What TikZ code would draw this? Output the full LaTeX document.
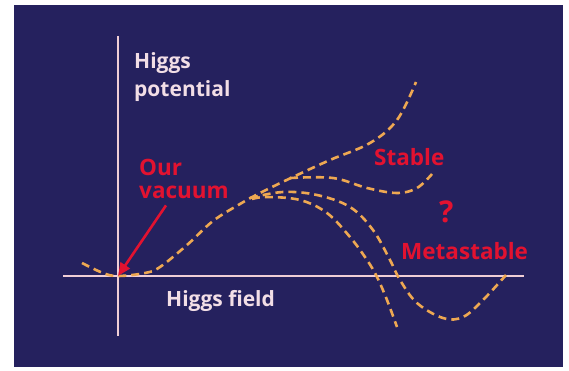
\documentclass[tikz,border=0pt]{standalone}
\usepackage{fontspec}
\setmainfont{Open Sans}
\definecolor{hgbg}{RGB}{37,33,94}
\definecolor{hgaxis}{RGB}{240,206,214}
\definecolor{hgtext}{RGB}{242,222,230}
\definecolor{hgred}{RGB}{226,18,48}
\definecolor{hgorange}{RGB}{238,168,82}
\usetikzlibrary{arrows.meta}

\begin{document}
\begin{tikzpicture}[x=1pt,y=-1pt,
  axisline/.style={draw=hgaxis, line width=2pt},
  potcurve/.style={draw=hgorange, line width=2.6pt, dash pattern=on 8pt off 5pt, smooth, tension=0.6},
  whitelabel/.style={anchor=base west, inner sep=0pt, text=hgtext, font=\fontsize{21}{28}\selectfont\bfseries, align=left},
  redlabel/.style={anchor=base west, inner sep=0pt, text=hgred, font=\fontsize{22.5}{23}\selectfont\bfseries, align=left}]
  % Background
  \useasboundingbox (0,0) rectangle (569,371);
  \fill[white] (0,0) rectangle (569,371);
  \fill[hgbg] (14,5) rectangle (563,367);
  % Axes
  \coordinate (origin) at (118,276);
  \draw[axisline] (118,36) -- (118,336);
  \draw[axisline] (63,276) -- (524,276);
  \node[whitelabel] (potential) at (134,97) {Higgs\\potential};
  \node[whitelabel] (field) at (166,306) {Higgs field};
  % Potential curves
  \draw[potcurve] plot coordinates {(82,263) (103,273) (118,276) (145,273) (160,267) (187,245) (213,221) (240,204) (260,193) (293,177) (330,160) (370,143) (397,120) (416,82)};
  \draw[potcurve] plot coordinates {(290,178) (333,178) (367,188) (397,193) (417,188) (432,174)};
  \draw[potcurve] plot coordinates {(250,198) (283,192) (317,195) (350,207) (373,230) (390,260) (400,280) (417,303) (443,318) (463,317) (483,300) (506,275)};
  \draw[potcurve] plot coordinates {(252,199) (267,197) (300,200) (327,213) (350,237) (367,260) (377,277) (387,300) (397,327)};
  % Labels
  \node[redlabel] (ourvac) at (139,198) {Our\\vacuum};
  \node[redlabel] (stable) at (374,166) {Stable};
  \node[redlabel, font=\fontsize{30}{30}\selectfont\bfseries] (question) at (439,222) {?};
  \node[redlabel] (metastable) at (401,259) {Metastable};
  % Arrow to our vacuum
  \draw[hgred, line width=2.6pt, -{Triangle[length=13pt,width=11pt]}] ([xshift=27pt,yshift=-7pt]ourvac.south west) -- (origin);
\end{tikzpicture}
\end{document}
